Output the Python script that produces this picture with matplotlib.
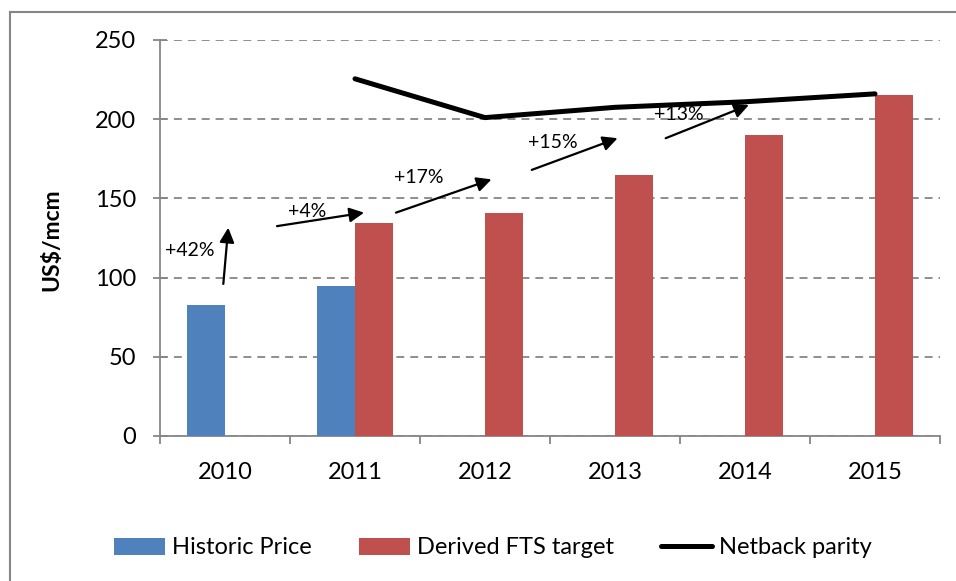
import matplotlib.pyplot as plt
from matplotlib.lines import Line2D
import numpy as np

years = ['2010', '2011', '2012', '2013', '2014', '2015']
historic = [82.5, 95, 0, 0, 0, 0]
derived = [0, 134.5, 140.5, 164.5, 190, 215.5]
netback_idx = [1, 2, 3, 4, 5]
netback = [225.5, 201, 207.5, 211, 216]

# arrow annotations: label, text position, arrow tail, arrow head (category index, value)
arrow_labels = ['+42%', '+4%', '+17%', '+15%', '+13%']
label_pos = [(-0.27, 117), (0.63, 142), (1.49, 163.5), (2.52, 185.5), (3.49, 203)]
arrow_tail = [(-0.013, 96), (0.40, 132.5), (1.315, 141), (2.36, 168), (3.39, 188)]
arrow_head = [(0.025, 131.5), (1.07, 141), (2.05, 162), (3.02, 188), (4.03, 209)]

plt.rcParams['font.family'] = ['Lato', 'DejaVu Sans']

fig = plt.figure(figsize=(9.56, 5.81), dpi=100)
ax = fig.add_axes([160 / 956, 1 - 436 / 581, 780 / 956, 396 / 581])

grey = '#868686'
x = np.arange(len(years))
w = 0.29

b1 = ax.bar(x - w / 2, historic, width=w, color='#4F81BD', label='Historic Price', zorder=3)
b2 = ax.bar(x + w / 2, derived, width=w, color='#C0504D', label='Derived FTS target', zorder=3)
l1, = ax.plot(netback_idx, netback, color='black', lw=3.6, solid_capstyle='round',
              label='Netback parity', zorder=4)

for lab, tp, tail, head in zip(arrow_labels, label_pos, arrow_tail, arrow_head):
    ax.annotate('', xy=head, xytext=tail,
                arrowprops=dict(arrowstyle='-|>', color='black', lw=1.6,
                                mutation_scale=22, shrinkA=0, shrinkB=0), zorder=5)
    ax.text(tp[0], tp[1], lab, ha='center', va='center', fontsize=14, zorder=5)

ax.set_xlim(-0.5, 5.5)
ax.set_ylim(0, 250)
ax.set_yticks(np.arange(0, 251, 50))
ax.set_xticks(x)
ax.set_xticklabels(years)
ax.set_xticks(np.arange(-0.5, 6, 1), minor=True)

ax.tick_params(axis='x', which='major', length=0, pad=19, labelsize=17)
ax.tick_params(axis='x', which='minor', length=5.5, width=1.3, color=grey, direction='out')
ax.tick_params(axis='y', length=10, width=1.3, color=grey, direction='inout', pad=12,
               labelsize=17)

ax.yaxis.grid(True, color=grey, lw=1.3, linestyle=(0, (4.4, 3.3)), zorder=0)
ax.set_axisbelow(True)
for s in ['top', 'right']:
    ax.spines[s].set_visible(False)
for s in ['left', 'bottom']:
    ax.spines[s].set_color(grey)
    ax.spines[s].set_linewidth(1.3)

ax.set_ylabel('US$/mcm', fontsize=16.5, fontweight='bold')
ax.yaxis.set_label_coords(-0.1256, 0.495)

fig.legend(handles=[b1, b2, l1], loc='center', bbox_to_anchor=(493 / 956, 1 - 548 / 581),
           ncol=3, frameon=False, fontsize=17, handlelength=2.15, handleheight=0.7,
           handletextpad=0.3, columnspacing=2.0)

# outer chart border (top and left edges visible)
fig.add_artist(Line2D([10 / 956, 1], [1 - 12 / 581] * 2, transform=fig.transFigure,
                      color=grey, lw=1.5))
fig.add_artist(Line2D([10 / 956] * 2, [0, 1 - 12 / 581], transform=fig.transFigure,
                      color=grey, lw=1.5))

fig.savefig('out.png', dpi=100)
